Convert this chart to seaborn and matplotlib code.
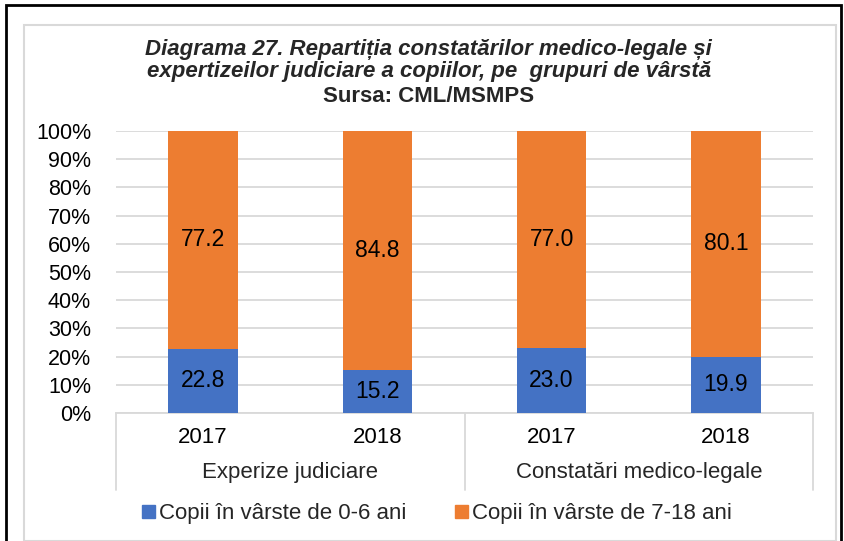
import matplotlib
matplotlib.use("Agg")
import matplotlib.pyplot as plt
import matplotlib.patches as mpatches
import matplotlib.transforms as mtransforms
import seaborn as sns
import pandas as pd

# data
groups = ["Experize judiciare", "Experize judiciare",
          "Constatări medico-legale", "Constatări medico-legale"]
years = ["2017", "2018", "2017", "2018"]
age_0_6 = [22.8, 15.2, 23.0, 19.9]
age_7_18 = [77.2, 84.8, 77.0, 80.1]
series_names = ["Copii în vârste de 0-6 ani", "Copii în vârste de 7-18 ani"]
colors = ["#4472C4", "#ED7D31"]

sns.set_style("white")
plt.rcParams["font.family"] = ["Liberation Sans", "DejaVu Sans"]

df = pd.DataFrame({
    "slot": [f"{g} {y}" for g, y in zip(groups, years)],
    "low": age_0_6,
    "high": age_7_18,
})
df["total"] = df["low"] + df["high"]

fig = plt.figure(figsize=(8.44, 5.41), dpi=100)
ax = fig.add_axes([116 / 844, 1 - 413 / 541, (813 - 116) / 844, (413 - 131) / 541])

sns.barplot(data=df, x="slot", y="total", color=colors[1], width=0.4,
            saturation=1, linewidth=0, ax=ax, zorder=3)
sns.barplot(data=df, x="slot", y="low", color=colors[0], width=0.4,
            saturation=1, linewidth=0, ax=ax, zorder=4)

for i, (lo, hi) in enumerate(zip(age_0_6, age_7_18)):
    ax.text(i, lo / 2, f"{lo:.1f}", ha="center", va="center", fontsize=16.5, color="#000000", zorder=5)
    ax.text(i, lo + hi / 2, f"{hi:.1f}", ha="center", va="center", fontsize=16.5, color="#000000", zorder=5)

ax.set_ylim(0, 100)
ax.set_xlim(-0.5, 3.5)
ax.set_yticks(range(0, 101, 10))
ax.set_yticklabels([f"{v}%" for v in range(0, 101, 10)])
ax.yaxis.grid(True, color="#D9D9D9", linewidth=1.3, zorder=0)
ax.set_xlabel("")
ax.set_ylabel("")
ax.set_xticks(range(4))
ax.set_xticklabels(years)
ax.tick_params(axis="both", length=0, colors="#000000")
ax.tick_params(axis="y", labelsize=15.5, pad=18)
ax.tick_params(axis="x", labelsize=16, pad=10)
for s in ["left", "right", "top"]:
    ax.spines[s].set_visible(False)
ax.spines["bottom"].set_color("#D9D9D9")
ax.spines["bottom"].set_linewidth(1.3)

# multi-level category axis
trans = mtransforms.blended_transform_factory(ax.transData, ax.transAxes)
for xv in [-0.5, 1.5, 3.5]:
    ax.plot([xv, xv], [0, -0.273], transform=trans, color="#D9D9D9",
            linewidth=1.3, clip_on=False)
for xc, name in [(0.5, groups[0]), (2.5, groups[2])]:
    ax.text(xc, -0.212, name, transform=trans, ha="center", va="center", fontsize=16)

# title
fig.text(0.508, 1 - 49 / 541, "Diagrama 27. Repartiția constatărilor medico-legale și",
         ha="center", va="center", fontsize=16, fontweight="bold", fontstyle="italic")
fig.text(0.508, 1 - 72 / 541, "expertizeilor judiciare a copiilor, pe  grupuri de vârstă",
         ha="center", va="center", fontsize=16, fontweight="bold", fontstyle="italic")
fig.text(0.508, 1 - 96 / 541, "Sursa: CML/MSMPS",
         ha="center", va="center", fontsize=16, fontweight="bold")

handles = [mpatches.Patch(color=c, label=n) for c, n in zip(colors, series_names)]
fig.legend(handles=handles, loc="center", bbox_to_anchor=(0.518, 1 - 514 / 541), ncol=2,
           frameon=False, fontsize=16, handlelength=0.55, handleheight=0.55,
           handletextpad=0.2, columnspacing=2.2)

# chart frame and outer border
fig.patches.append(mpatches.Rectangle((24 / 844, 0), (836 - 24) / 844, 1 - 25 / 541,
                                      transform=fig.transFigure, fill=False,
                                      edgecolor="#D9D9D9", linewidth=1.5))
fig.patches.append(mpatches.Rectangle((6 / 844, -0.01), (841 - 6) / 844, 1 - 5 / 541 + 0.01,
                                      transform=fig.transFigure, fill=False,
                                      edgecolor="#000000", linewidth=2))

fig.savefig("out.png", dpi=100)
